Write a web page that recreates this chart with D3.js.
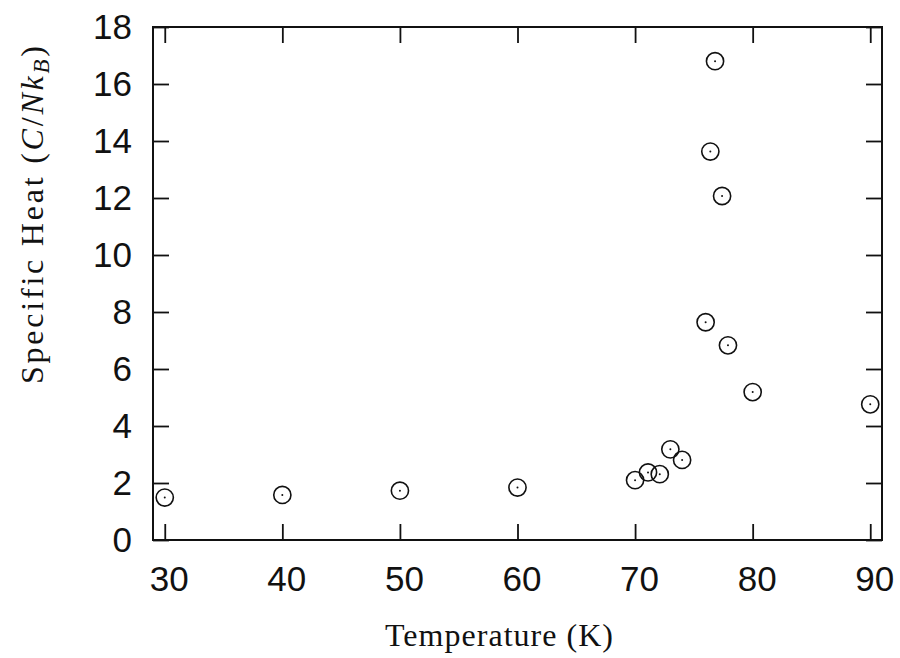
<!DOCTYPE html>
<html>
<head>
<meta charset="utf-8">
<script src="https://cdn.jsdelivr.net/npm/d3@7"></script>
<style>
  body { margin: 0; background: #fff; }
  .tick text { font-family: 'Liberation Sans', Arial, sans-serif; font-size: 35px; fill: #111; }
  .axis-label { font-family: 'Liberation Serif', 'Times New Roman', serif; font-size: 32px; fill: #111; }
</style>
</head>
<body>
<svg id="chart" width="900" height="658"></svg>
<script>
// temperature (K) and specific heat C/NkB
const temps = [30, 40, 50, 60, 70, 71.1, 72.1, 73, 74, 76, 76.4, 76.8, 77.4, 77.9, 80, 90];
const heats = [1.49, 1.58, 1.73, 1.84, 2.1, 2.37, 2.31, 3.18, 2.81, 7.64, 13.63, 16.8, 12.07, 6.83, 5.19, 4.76];
const xTicks = [30, 40, 50, 60, 70, 80, 90];
const yTicks = [0, 2, 4, 6, 8, 10, 12, 14, 16, 18];

const svg = d3.select('#chart'),
    margin = {top: 27, right: 18, bottom: 118, left: 153},
    width = +svg.attr('width') - margin.left - margin.right,
    height = +svg.attr('height') - margin.top - margin.bottom;

const x = d3.scaleLinear().domain([29, 91]).range([0, width]);
const y = d3.scaleLinear().domain([0, 18]).range([height, 0]);

const g = svg.append('g')
    .attr('transform', 'translate(' + margin.left + ',' + margin.top + ')');

// bottom and left axes carry the labels, ticks point inwards
const xAxis = g.append('g')
    .attr('transform', 'translate(0,' + height + ')')
    .call(d3.axisBottom(x).tickValues(xTicks).tickSize(-16).tickPadding(26).tickSizeOuter(0));
xAxis.selectAll('.tick text').attr('dx', 4);

g.append('g')
    .call(d3.axisLeft(y).tickValues(yTicks).tickSize(-16).tickPadding(21).tickSizeOuter(0));

// mirrored ticks on top and right
g.append('g')
    .call(d3.axisTop(x).tickValues(xTicks).tickSize(-16).tickFormat('').tickSizeOuter(0));
g.append('g')
    .attr('transform', 'translate(' + width + ',0)')
    .call(d3.axisRight(y).tickValues(yTicks).tickSize(-16).tickFormat('').tickSizeOuter(0));

g.selectAll('.domain').remove();
g.selectAll('.tick line').attr('stroke', '#111').attr('stroke-width', 1.8);

g.append('rect')
    .attr('width', width)
    .attr('height', height)
    .attr('fill', 'none')
    .attr('stroke', '#111')
    .attr('stroke-width', 2);

const pts = temps.map(function(t, i) { return {t: t, c: heats[i]}; });

const dot = g.selectAll('.pt')
  .data(pts)
  .enter().append('g')
    .attr('class', 'pt')
    .attr('transform', function(d) { return 'translate(' + x(d.t) + ',' + y(d.c) + ')'; });

dot.append('circle')
    .attr('r', 8.6)
    .attr('fill', 'none')
    .attr('stroke', '#111')
    .attr('stroke-width', 1.6);

dot.append('circle')
    .attr('r', 1)
    .attr('fill', '#111');

svg.append('text')
    .attr('class', 'axis-label')
    .attr('x', 499)
    .attr('y', 646)
    .attr('text-anchor', 'middle')
    .attr('textLength', 228)
    .attr('lengthAdjust', 'spacing')
    .text('Temperature (K)');

const yl = svg.append('text')
    .attr('class', 'axis-label')
    .attr('transform', 'translate(43,215) rotate(-90)')
    .attr('text-anchor', 'middle')
    .attr('textLength', 338)
    .attr('lengthAdjust', 'spacing');
yl.append('tspan').text('Specific Heat (');
yl.append('tspan').attr('font-style', 'italic').text('C');
yl.append('tspan').text('/');
yl.append('tspan').attr('font-style', 'italic').text('Nk');
yl.append('tspan').attr('font-style', 'italic').attr('font-size', '23px').attr('dy', 6).text('B');
yl.append('tspan').attr('dy', -6).text(')');
</script>
</body>
</html>
